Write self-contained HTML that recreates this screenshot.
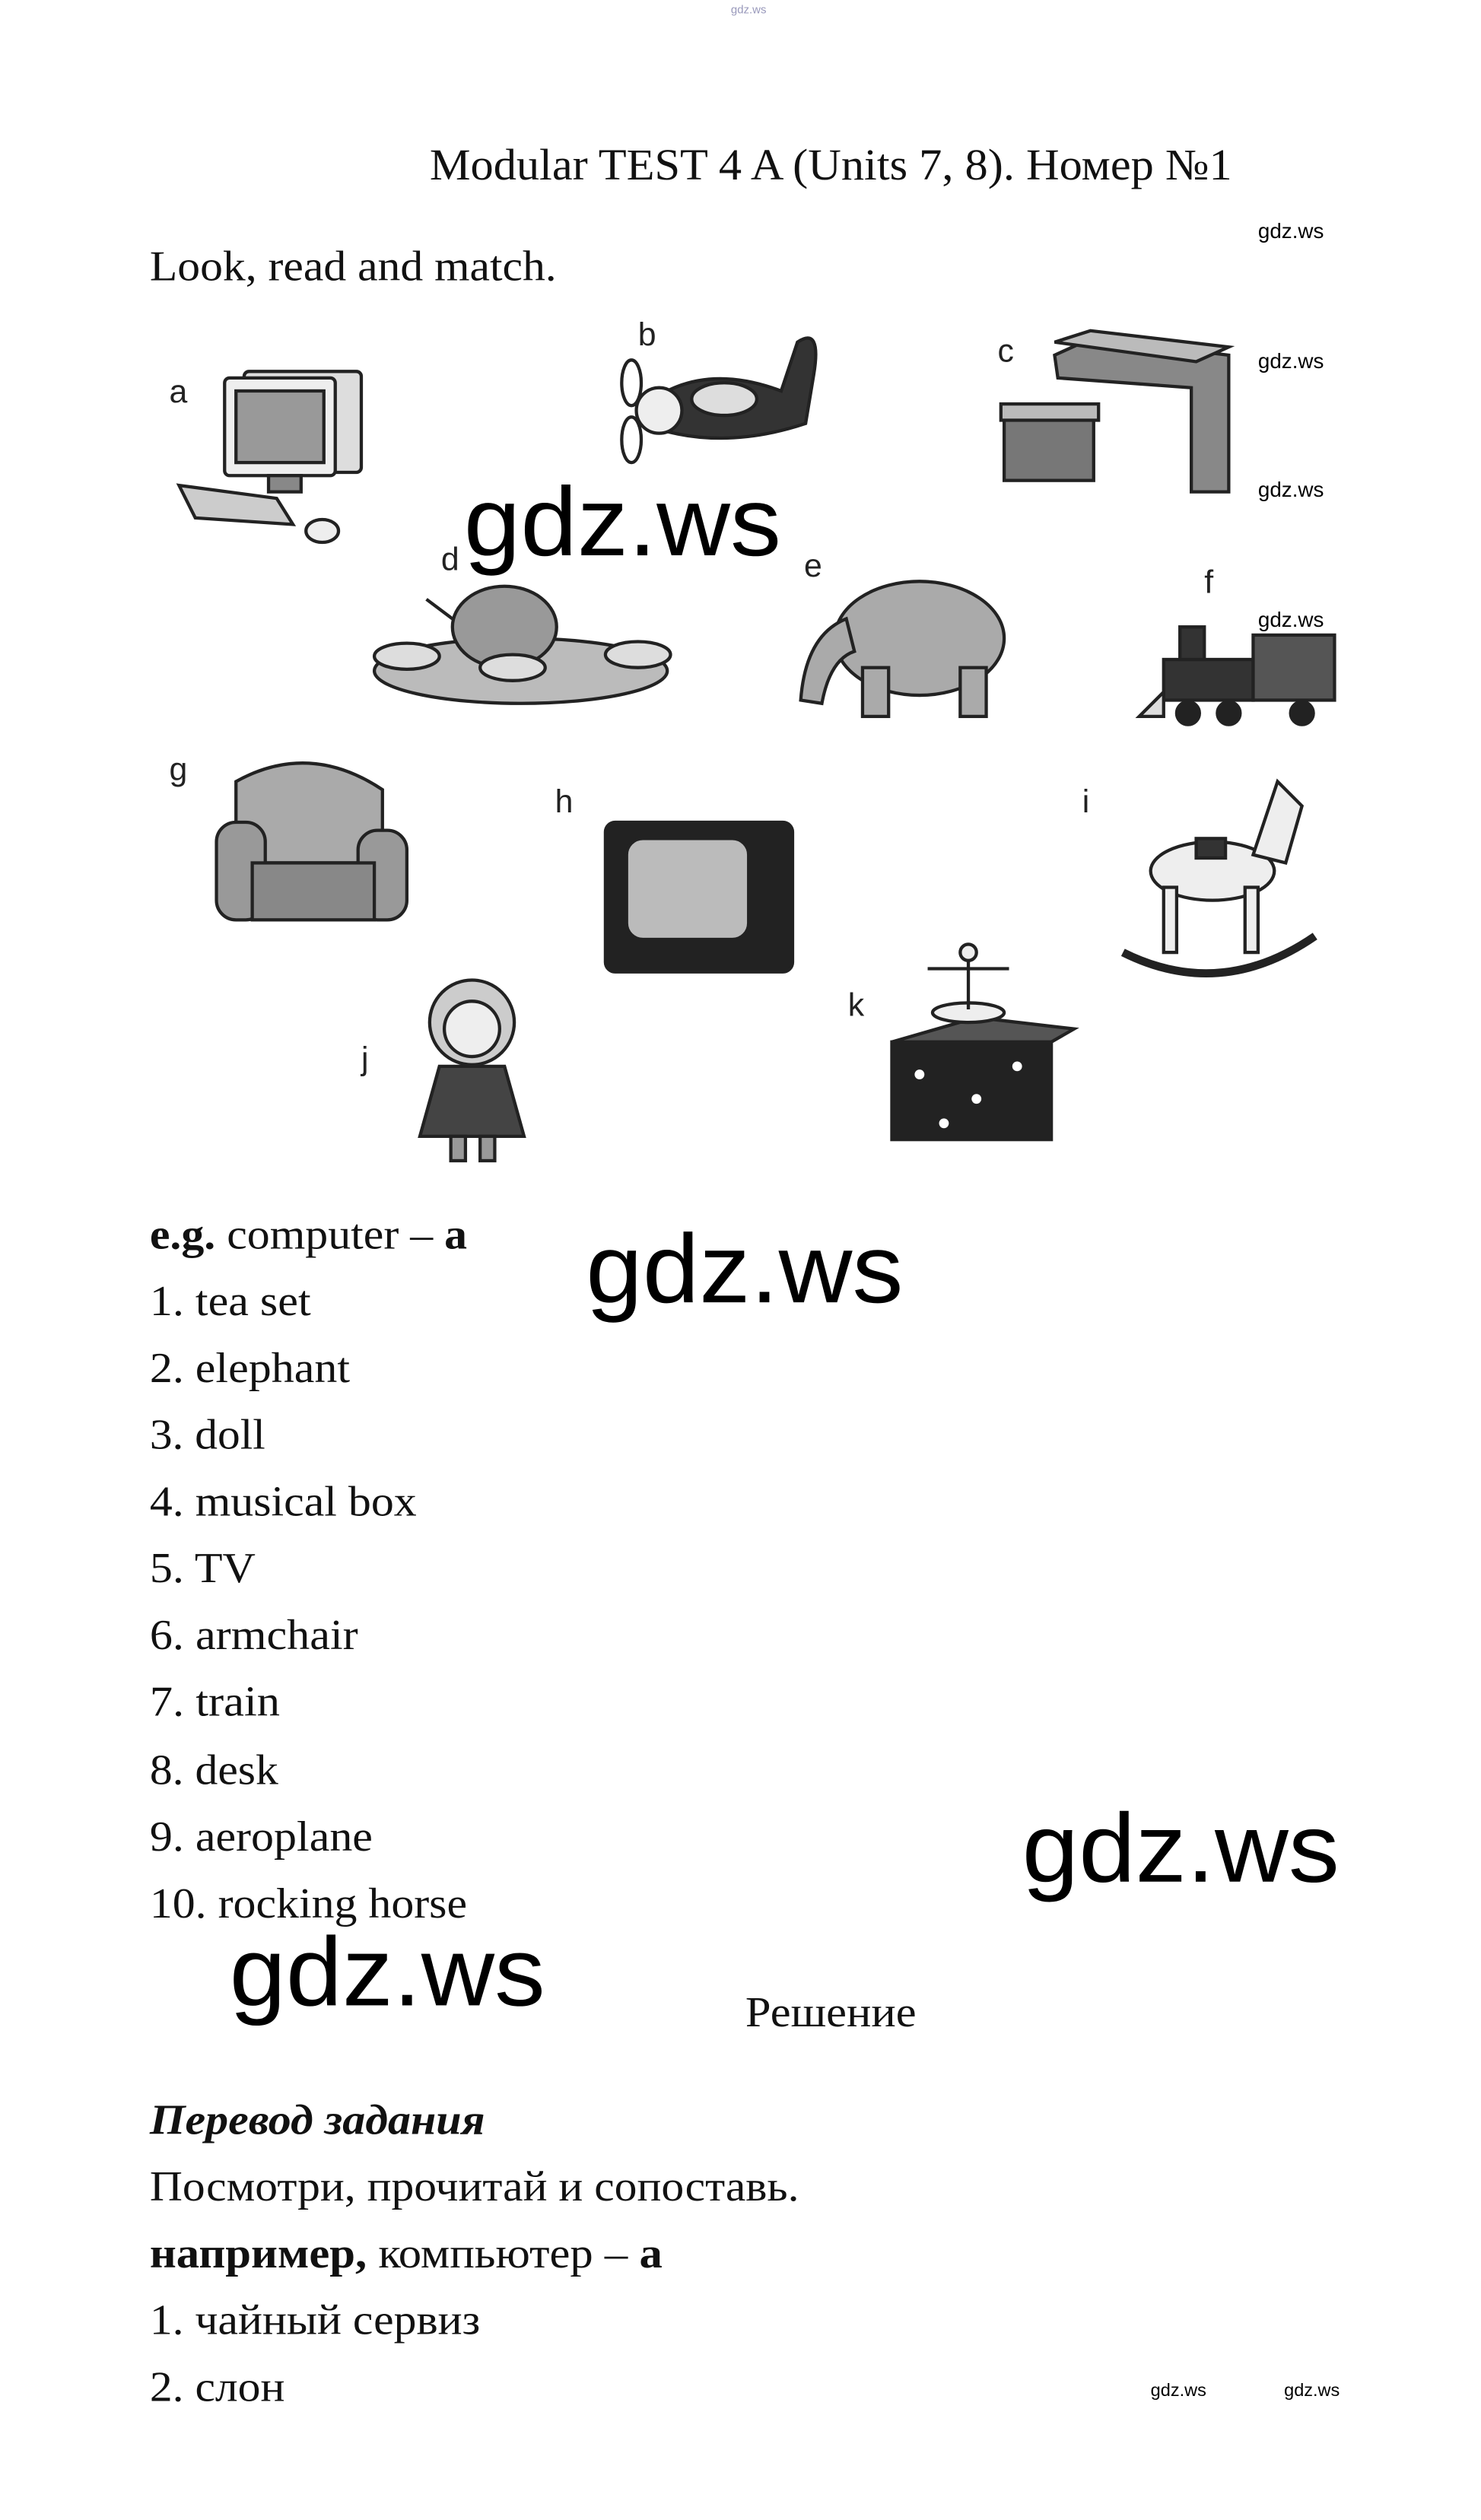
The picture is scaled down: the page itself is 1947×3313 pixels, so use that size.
<!DOCTYPE html>
<html><head><meta charset="utf-8">
<style>
html,body{margin:0;padding:0;background:#fff;}
svg{display:block;}
.s{font-family:"Liberation Serif","Noto Serif CJK SC",serif;fill:#111;}
.g{font-family:"Liberation Sans","DejaVu Sans",sans-serif;fill:#000;}
.l{font-family:"Liberation Sans","DejaVu Sans",sans-serif;fill:#222;font-size:20px;}
</style></head>
<body>
<svg width="1947" height="3313" viewBox="0 0 910 1548" xmlns="http://www.w3.org/2000/svg">
<rect width="910" height="1548" fill="#fff"/>
<text x="460" y="8" class="g" font-size="7" text-anchor="middle" style="fill:#99b">gdz.ws</text>

<text x="264" y="110" class="s" font-size="27" textLength="493" lengthAdjust="spacingAndGlyphs">Modular TEST 4 A (Units 7, 8). Номер №1</text>
<text x="773" y="146" class="g" font-size="13">gdz.ws</text>
<text x="92" y="172" class="s" font-size="26" textLength="250" lengthAdjust="spacingAndGlyphs">Look, read and match.</text>
<text x="773" y="226" class="g" font-size="13">gdz.ws</text>
<text x="773" y="305" class="g" font-size="13">gdz.ws</text>
<text x="773" y="385" class="g" font-size="13">gdz.ws</text>

<!-- letters -->
<text x="104" y="247" class="l">a</text>
<text x="392" y="212" class="l">b</text>
<text x="613" y="222" class="l">c</text>
<text x="271" y="350" class="l">d</text>
<text x="494" y="354" class="l">e</text>
<text x="740" y="364" class="l">f</text>
<text x="104" y="479" class="l">g</text>
<text x="341" y="499" class="l">h</text>
<text x="665" y="499" class="l">i</text>
<text x="222" y="657" class="l">j</text>
<text x="521" y="624" class="l">k</text>

<!-- a computer -->
<g stroke="#222" stroke-width="2" fill="#eee">
<rect x="150" y="228" width="72" height="62" rx="3" fill="#ddd"/>
<rect x="138" y="232" width="68" height="60" rx="3"/>
<rect x="145" y="240" width="54" height="44" fill="#999"/>
<rect x="165" y="292" width="20" height="10" fill="#888"/>
<polygon points="110,298 170,306 180,322 120,318" fill="#ccc"/>
<ellipse cx="198" cy="326" rx="10" ry="7"/>
</g>
<!-- b plane -->
<g stroke="#222" stroke-width="2">
<path d="M410,240 Q440,225 480,240 L490,210 Q505,200 500,230 L495,260 Q450,275 410,265 Z" fill="#333"/>
<ellipse cx="445" cy="245" rx="20" ry="10" fill="#ddd"/>
<ellipse cx="405" cy="252" rx="14" ry="14" fill="#eee"/>
<ellipse cx="388" cy="235" rx="6" ry="14" fill="#fff"/>
<ellipse cx="388" cy="270" rx="6" ry="14" fill="#fff"/>
</g>
<!-- c desk -->
<g stroke="#222" stroke-width="2">
<polygon points="648,218 670,208 755,218 755,302 732,302 732,238 650,232" fill="#888"/>
<polygon points="648,210 670,203 755,213 735,222" fill="#bbb"/>
<rect x="617" y="255" width="55" height="40" fill="#777"/>
<rect x="615" y="248" width="60" height="10" fill="#bbb"/>
</g>
<!-- d tea set -->
<g stroke="#222" stroke-width="2">
<ellipse cx="320" cy="412" rx="90" ry="20" fill="#bbb"/>
<ellipse cx="310" cy="385" rx="32" ry="25" fill="#999"/>
<path d="M278,380 L262,368" fill="none"/>
<ellipse cx="250" cy="403" rx="20" ry="8" fill="#ddd"/>
<ellipse cx="315" cy="410" rx="20" ry="8" fill="#ddd"/>
<ellipse cx="392" cy="402" rx="20" ry="8" fill="#ddd"/>
</g>
<!-- e elephant -->
<g stroke="#222" stroke-width="2">
<ellipse cx="565" cy="392" rx="52" ry="35" fill="#aaa"/>
<path d="M520,380 Q495,390 492,430 L505,432 Q510,405 525,400 Z" fill="#aaa"/>
<rect x="530" y="410" width="16" height="30" fill="#aaa"/>
<rect x="590" y="410" width="16" height="30" fill="#aaa"/>
</g>
<!-- f train -->
<g stroke="#222" stroke-width="2" fill="#333">
<rect x="715" y="405" width="55" height="25"/>
<rect x="770" y="390" width="50" height="40" fill="#555"/>
<rect x="725" y="385" width="15" height="20"/>
<circle cx="730" cy="438" r="7" fill="#222"/>
<circle cx="755" cy="438" r="7" fill="#222"/>
<circle cx="800" cy="438" r="7" fill="#222"/>
<polygon points="700,440 715,425 715,440" fill="#ddd"/>
</g>
<!-- g armchair -->
<g stroke="#222" stroke-width="2" fill="#999">
<path d="M145,480 Q190,455 235,485 L235,530 L145,530 Z" fill="#aaa"/>
<rect x="133" y="505" width="30" height="60" rx="12"/>
<rect x="220" y="510" width="30" height="55" rx="12"/>
<rect x="155" y="530" width="75" height="35" fill="#888"/>
</g>
<!-- h TV -->
<g stroke="#222" stroke-width="2">
<rect x="372" y="505" width="115" height="92" rx="6" fill="#222"/>
<rect x="385" y="515" width="75" height="62" rx="10" fill="#bbb"/>
</g>
<!-- i rocking horse -->
<g stroke="#222" stroke-width="2" fill="#eee">
<path d="M690,585 Q750,615 808,575" fill="none" stroke-width="5"/>
<ellipse cx="745" cy="535" rx="38" ry="18"/>
<path d="M770,525 L785,480 L800,495 L790,530 Z"/>
<rect x="715" y="545" width="8" height="40"/>
<rect x="765" y="545" width="8" height="40"/>
<rect x="735" y="515" width="18" height="12" fill="#333"/>
</g>
<!-- j doll -->
<g stroke="#222" stroke-width="2">
<circle cx="290" cy="628" r="26" fill="#ccc"/>
<circle cx="290" cy="632" r="17" fill="#eee"/>
<path d="M270,655 L310,655 L322,698 L258,698 Z" fill="#444"/>
<rect x="277" y="698" width="9" height="15" fill="#999"/>
<rect x="295" y="698" width="9" height="15" fill="#999"/>
</g>
<!-- k musical box -->
<g stroke="#222" stroke-width="2">
<rect x="548" y="640" width="98" height="60" fill="#222"/>
<polygon points="548,640 600,625 660,632 646,640" fill="#555"/>
<circle cx="565" cy="660" r="4" fill="#fff"/><circle cx="600" cy="675" r="4" fill="#fff"/>
<circle cx="625" cy="655" r="4" fill="#fff"/><circle cx="580" cy="690" r="4" fill="#fff"/>
<ellipse cx="595" cy="622" rx="22" ry="6" fill="#eee"/>
<line x1="595" y1="585" x2="595" y2="620"/>
<circle cx="595" cy="585" r="5" fill="#eee"/>
<line x1="570" y1="595" x2="620" y2="595"/>
</g>

<text x="285" y="341" class="g" font-size="60" textLength="195" lengthAdjust="spacingAndGlyphs">gdz.ws</text>

<text x="92" y="767" class="s" font-size="26" textLength="195" lengthAdjust="spacingAndGlyphs"><tspan font-weight="bold">e.g.</tspan> computer – <tspan font-weight="bold">a</tspan></text>
<text x="360" y="800" class="g" font-size="60" textLength="195" lengthAdjust="spacingAndGlyphs">gdz.ws</text>
<text x="92" y="808" class="s" font-size="26" textLength="99" lengthAdjust="spacingAndGlyphs">1. tea set</text>
<text x="92" y="849" class="s" font-size="26" textLength="123" lengthAdjust="spacingAndGlyphs">2. elephant</text>
<text x="92" y="890" class="s" font-size="26" textLength="71" lengthAdjust="spacingAndGlyphs">3. doll</text>
<text x="92" y="931" class="s" font-size="26" textLength="164" lengthAdjust="spacingAndGlyphs">4. musical box</text>
<text x="92" y="972" class="s" font-size="26" textLength="65" lengthAdjust="spacingAndGlyphs">5. TV</text>
<text x="92" y="1013" class="s" font-size="26" textLength="128" lengthAdjust="spacingAndGlyphs">6. armchair</text>
<text x="92" y="1054" class="s" font-size="26" textLength="80" lengthAdjust="spacingAndGlyphs">7. train</text>
<text x="92" y="1096" class="s" font-size="26" textLength="79" lengthAdjust="spacingAndGlyphs">8. desk</text>
<text x="92" y="1137" class="s" font-size="26" textLength="137" lengthAdjust="spacingAndGlyphs">9. aeroplane</text>
<text x="628" y="1156" class="g" font-size="60" textLength="195" lengthAdjust="spacingAndGlyphs">gdz.ws</text>
<text x="92" y="1178" class="s" font-size="26" textLength="195" lengthAdjust="spacingAndGlyphs">10. rocking horse</text>
<text x="141" y="1232" class="g" font-size="60" textLength="194" lengthAdjust="spacingAndGlyphs">gdz.ws</text>
<text x="458" y="1245" class="s" font-size="26" textLength="105" lengthAdjust="spacingAndGlyphs">Решение</text>

<text x="92" y="1311" class="s" font-size="26" font-weight="bold" font-style="italic" textLength="206" lengthAdjust="spacingAndGlyphs">Перевод задания</text>
<text x="92" y="1352" class="s" font-size="26" textLength="399" lengthAdjust="spacingAndGlyphs">Посмотри, прочитай и сопоставь.</text>
<text x="92" y="1393" class="s" font-size="26" textLength="315" lengthAdjust="spacingAndGlyphs"><tspan font-weight="bold">например,</tspan> компьютер – <tspan font-weight="bold">а</tspan></text>
<text x="92" y="1434" class="s" font-size="26" textLength="203" lengthAdjust="spacingAndGlyphs">1. чайный сервиз</text>
<text x="92" y="1475" class="s" font-size="26" textLength="83" lengthAdjust="spacingAndGlyphs">2. слон</text>
<text x="707" y="1472" class="g" font-size="11">gdz.ws</text>
<text x="789" y="1472" class="g" font-size="11">gdz.ws</text>
</svg>
</body></html>
